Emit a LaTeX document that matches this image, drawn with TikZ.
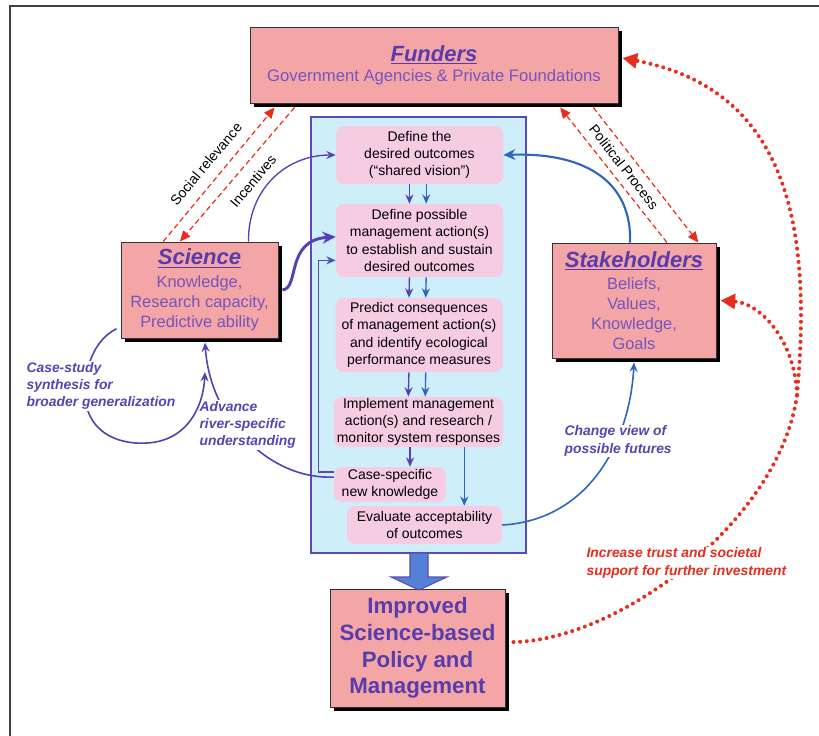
\documentclass[tikz,border=0pt]{standalone}
\usepackage{fontspec}
\setmainfont{Liberation Sans}
\usepackage{tikz}
\usetikzlibrary{arrows.meta,calc}

\definecolor{boxpink}{RGB}{244,166,166}
\definecolor{steppink}{RGB}{246,204,226}
\definecolor{frameblue}{RGB}{206,238,250}
\definecolor{framelin}{RGB}{88,76,178}
\definecolor{txtpurple}{RGB}{116,84,192}
\definecolor{ttlpurple}{RGB}{88,60,172}
\definecolor{arrpurple}{RGB}{86,64,180}
\definecolor{arrblue}{RGB}{48,100,190}
\definecolor{lblpurple}{RGB}{84,70,178}
\definecolor{dotred}{RGB}{232,44,30}
\definecolor{bigblue}{RGB}{84,128,214}

\newcommand{\boxtitle}[1]{{\fontsize{16.5}{19}\selectfont\bfseries\itshape\color{ttlpurple}\underline{#1}}}

\begin{document}
\begin{tikzpicture}[x=0.75pt,y=0.75pt,yscale=-1,xscale=1,
  mainbox/.style={draw=black!80, line width=0.7pt, fill=boxpink, text=txtpurple, align=center, inner sep=2pt},
  stepbox/.style={fill=steppink, rounded corners=6pt, align=center, inner sep=1pt,
    font=\fontsize{10.5}{13}\selectfont},
  flowarrow/.style={draw=arrpurple, line width=1pt, -{Stealth[length=7pt,width=6pt]}},
  dasharrow/.style={draw=dotred, line width=0.9pt, dash pattern=on 4pt off 2.5pt, -{Triangle[length=8pt,width=7pt]}},
  dotline/.style={draw=dotred, line width=3pt, line cap=round, dash pattern=on 0pt off 5pt},
  dotarrow/.style={dotline, -{Triangle[length=11pt,width=11pt]}},
  looplabel/.style={text=lblpurple, font=\fontsize{10.4}{13}\selectfont\bfseries\itshape, align=left, fill=white, inner sep=1pt},
  smalllabel/.style={font=\fontsize{10.5}{12}\selectfont, inner sep=1pt}]
  \useasboundingbox (0,0) rectangle (819,736);

  %Straight Lines: outer frame
  \draw [line width=1pt, draw=black!75] (10,736) -- (10,6) -- (819,6);

  %Shape: Rectangle, adaptive management loop
  \node [draw=framelin, line width=1.5pt, fill=frameblue, minimum width=161.25pt, minimum height=327pt, inner sep=0pt] (am) at (418.5,335) {};

  % Text Node
  \node [stepbox, minimum width=125.25pt, minimum height=43.5pt] (s1) at (419.5,155) {Define the\\desired outcomes\\(“shared vision”)};
  % Text Node
  \node [stepbox, minimum width=125.25pt, minimum height=54.75pt] (s2) at (419.5,240.5) {Define possible\\management action(s)\\to establish and sustain\\desired outcomes};
  % Text Node
  \node [stepbox, minimum width=125.25pt, minimum height=55.5pt] (s3) at (419,335) {Predict consequences\\of management action(s)\\and identify ecological\\performance measures};
  % Text Node
  \node [stepbox, minimum width=126.75pt, minimum height=37.5pt] (s4) at (418.5,422) {Implement management\\action(s) and research /\\monitor system responses};
  % Text Node
  \node [stepbox, minimum width=84pt, minimum height=26.25pt] (s5) at (390,484.5) {Case-specific\\new knowledge};
  % Text Node
  \node [stepbox, minimum width=116.25pt, minimum height=28.5pt] (s6) at (424.5,525) {Evaluate acceptability\\of outcomes};

  %Shape: Rectangle
  \node [mainbox, minimum width=276pt, minimum height=57pt, font=\fontsize{12.5}{15}\selectfont] (fund) at (434,65) {\boxtitle{Funders}\\Government Agencies \& Private Foundations};
  %Shape: Rectangle
  \node [mainbox, minimum width=117.75pt, minimum height=72pt, font=\fontsize{12.3}{15}\selectfont] (sci) at (199.5,290) {\boxtitle{Science}\\[2pt]Knowledge,\\Research capacity,\\Predictive ability};
  %Shape: Rectangle
  \node [mainbox, minimum width=123pt, minimum height=86.25pt, font=\fontsize{12.3}{15}\selectfont] (stake) at (634,300.5) {\boxtitle{Stakeholders}\\[2pt]Beliefs,\\Values,\\Knowledge,\\Goals};
  %Shape: Rectangle
  \node [mainbox, minimum width=131.25pt, minimum height=88.5pt, text=ttlpurple, font=\fontsize{16.7}{20}\selectfont\bfseries] (impr) at (417.5,648) {Improved\\Science-based\\Policy and\\Management};

  %Shape: shadows of the boxes
  \foreach \b in {fund,sci,stake,impr}{
    \fill [black] ($(\b.north east)+(0.5,4)$) rectangle ($(\b.south east)+(3.5,3.5)$);
    \fill [black] ($(\b.south west)+(4,0.5)$) rectangle ($(\b.south east)+(3.5,3.5)$);
  }

  %Shape: big arrow
  \draw [draw=framelin, fill=bigblue, line width=0.8pt] (410,553) -- (410,577) -- (391,577) -- (419,590) -- (447,577) -- (428,577) -- (428,553) -- cycle;

  %Straight Lines: steps of the loop
  \foreach \a/\b in {s1/s2,s2/s3,s3/s4}{
    \draw [flowarrow] ($(\a.south west)!.44!(\a.south east)$) -- ($(\b.north west)!.44!(\b.north east)$);
    \draw [flowarrow, draw=arrblue] ($(\a.south west)!.54!(\a.south east)$) -- ($(\b.north west)!.54!(\b.north east)$);
  }
  \draw [flowarrow] ($(s4.south west)!.45!(s4.south east)$) coordinate (k1) -- (k1 |- s5.north);
  \draw [flowarrow, draw=arrblue] ($(s4.south west)!.77!(s4.south east)$) coordinate (k2) -- (k2 |- s6.north);
  \draw [flowarrow, draw=framelin] ($(s5.north west)!.15!(s5.south west)$) -- ++(-15,0) |- ($(s2.north west)!.77!(s2.south west)$);

  %Straight Lines: dashed links to funders
  \draw [dasharrow] ($(sci.north west)!.27!(sci.north east)$) -- ($(fund.south west)!.068!(fund.south east)+(0,4)$);
  \draw [dasharrow] ($(fund.south west)!.122!(fund.south east)+(0,4)$) -- ($(sci.north west)!.376!(sci.north east)$);
  \draw [dasharrow] ($(stake.north west)!.70!(stake.north east)$) -- ($(fund.south west)!.842!(fund.south east)+(0,4)$);
  \draw [dasharrow] ($(fund.south west)!.932!(fund.south east)+(0,4)$) -- ($(stake.north west)!.89!(stake.north east)$);
  % Text Node
  \node [smalllabel, rotate=50] (socrel) at (206,164) {Social relevance};
  % Text Node
  \node [smalllabel, rotate=50] (incent) at (253,181) {Incentives};
  % Text Node
  \node [smalllabel, rotate=-52] (polit) at (624,167) {Political Process};

  %Curve Lines
  \draw [flowarrow] ($(sci.north west)!.81!(sci.north east)$) .. controls (248,190) and (285,155) .. (s1.west);
  \draw [flowarrow, line width=2.2pt, -{Stealth[length=10pt,width=9pt]}] ($(sci.east)+(4,0)$) .. controls (300,288) and (285,240) .. ($(s2.north west)!.45!(s2.south west)$);
  \draw [flowarrow, draw=arrblue, line width=1.6pt, -{Stealth[length=9pt,width=8pt]}] ($(stake.north west)!.476!(stake.north east)$) .. controls (632,185) and (590,152) .. (s1.east);
  \draw [flowarrow, draw=arrblue, line width=1.2pt] (s6.east) .. controls (590,520) and (630,440) .. ($(stake.south)+(0,4)$);
  % Text Node
  \node [looplabel, anchor=west] (chview) at (563,441) {Change view of\\possible futures};

  %Curve Lines
  \draw [flowarrow, line width=1.2pt] ($(s5.north west)!.29!(s5.south west)$) .. controls (270,480) and (210,420) .. ($(sci.south west)!.535!(sci.south east)+(0,4)$);
  % Text Node
  \node [looplabel, anchor=west] (advance) at (198,425) {Advance\\river-specific\\understanding};
  \coordinate (merge) at (205,372);
  \draw [flowarrow, line width=1.2pt] ($(sci.north west)!.9!(sci.south west)+(-4,0)$) .. controls (98,338) and (86,360) .. (85,390) .. controls (84,430) and (115,445) .. (147,443) .. controls (185,441) and (203,410) .. (merge);
  % Text Node
  \node [looplabel, anchor=west] (casest) at (25,386) {Case-study\\synthesis for\\broader generalization};

  %Curve Lines: dotted support
  \coordinate (fork) at (797,395);
  \draw [dotline] ($(impr.north east)!.45!(impr.south east)+(8,0)$) .. controls (620,640) and (780,520) .. (fork);
  \draw [dotarrow] (fork) .. controls (812,230) and (790,90) .. ($(fund.north east)!.41!(fund.south east)+(4,0)$);
  \draw [dotarrow] (fork) .. controls (795,340) and (760,303) .. ($(stake.east)+(4,0)$);
  % Text Node
  \node [looplabel, text=dotred, anchor=west] (trust) at (585,563) {Increase trust and societal\\support for further investment};

\end{tikzpicture}
\end{document}
